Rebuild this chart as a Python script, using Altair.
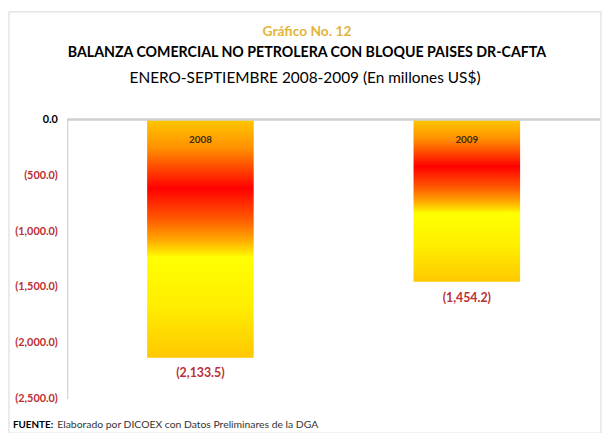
import altair as alt
import pandas as pd

# ---- data ----
years = ["2008", "2009"]
values = [-2133.5, -1454.2]
value_labels = ["(2,133.5)", "(1,454.2)"]
tick_values = [0, -500, -1000, -1500, -2000, -2500]

heading = ["Gráfico No. 12"]
main_title = ["BALANZA COMERCIAL NO PETROLERA CON BLOQUE PAISES DR-CAFTA"]
sub_title = ["ENERO-SEPTIEMBRE 2008-2009 (En millones US$)"]
source_bold = ["FUENTE:"]
source_text = ["Elaborado por DICOEX con Datos Preliminares de la DGA"]

df = pd.DataFrame({"year": years, "value": values, "label": value_labels, "top": [0, 0]})

FONT = "Lato, sans-serif"
W, H = 540, 283
RED = "#bb2f35"

grad = alt.LinearGradient(
    gradient="linear", x1=0, y1=0, x2=0, y2=1,
    stops=[
        alt.GradientStop(offset=0.0, color="#ffc800"),
        alt.GradientStop(offset=0.12, color="#ff9000"),
        alt.GradientStop(offset=0.29, color="#ff0000"),
        alt.GradientStop(offset=0.42, color="#ff5a00"),
        alt.GradientStop(offset=0.51, color="#ffac00"),
        alt.GradientStop(offset=0.58, color="#ffff00"),
        alt.GradientStop(offset=0.78, color="#ffee00"),
        alt.GradientStop(offset=1.0, color="#ffc800"),
    ],
)

xenc = alt.X("year:N", sort=years, scale=alt.Scale(paddingInner=0.6, paddingOuter=0.3), axis=None)
yscale = alt.Scale(domain=[-2500, 0], nice=False)

base = alt.Chart(df)

bars = base.mark_bar(color=grad).encode(
    x=xenc,
    y=alt.Y(
        "value:Q",
        scale=yscale,
        axis=alt.Axis(
            values=tick_values,
            labelExpr="datum.value == 0 ? '0.0' : '(' + format(abs(datum.value), ',.1f') + ')'",
            labelColor=alt.ExprRef(expr=f"datum.value == 0 ? '#000000' : '{RED}'"),
            labelFont=FONT,
            labelFontSize=11,
            labelFontWeight="bold",
            labelPadding=10,
            ticks=False,
            grid=False,
            domainColor="#c8c8c8",
            domainWidth=1,
            title=None,
        ),
    ),
)

zero_rule = base.mark_rule(color="#d0d0d0", strokeWidth=2).encode(y=alt.datum(0))

year_text = base.mark_text(font=FONT, fontSize=10, fontWeight="bold", color="#3b2a14", dy=21, baseline="middle").encode(
    x=xenc, y=alt.Y("top:Q", scale=yscale), text="year:N"
)

val_text = base.mark_text(font=FONT, fontSize=12.5, fontWeight="bold", color=RED, dy=16, baseline="middle").encode(
    x=xenc, y=alt.Y("value:Q", scale=yscale), text="label:N"
)


def txt(lines, x, y, size, color="#000000", weight="normal", align="center"):
    return alt.Chart(pd.DataFrame({"t": lines})).mark_text(
        font=FONT, fontSize=size, fontWeight=weight, color=color, align=align, baseline="middle"
    ).encode(x=alt.value(x), y=alt.value(y), text="t:N")


t1 = txt(heading, 243, -89, 14, color="#e3b43a", weight="bold")
t2 = txt(main_title, 243, -67, 14.4, weight="bold")
t3 = txt(sub_title, 241, -42, 15.6)
f1 = txt(source_bold, -55, 310, 10, weight="bold", align="left")
f2 = txt(source_text, -10, 310, 10.5, color="#333333", align="left")

frame = alt.Chart(pd.DataFrame({"a": [0]})).mark_rect(fillOpacity=0, stroke="#d6d6d6", strokeWidth=1).encode(
    x=alt.value(-59), x2=alt.value(541), y=alt.value(-109), y2=alt.value(318)
)

chart = (
    alt.layer(frame, bars, zero_rule, year_text, val_text, t1, t2, t3, f1, f2)
    .properties(width=W, height=H, padding=0)
    .configure_view(strokeWidth=0)
)

chart.save("out.html", embed_options={"renderer": "svg", "actions": False})
